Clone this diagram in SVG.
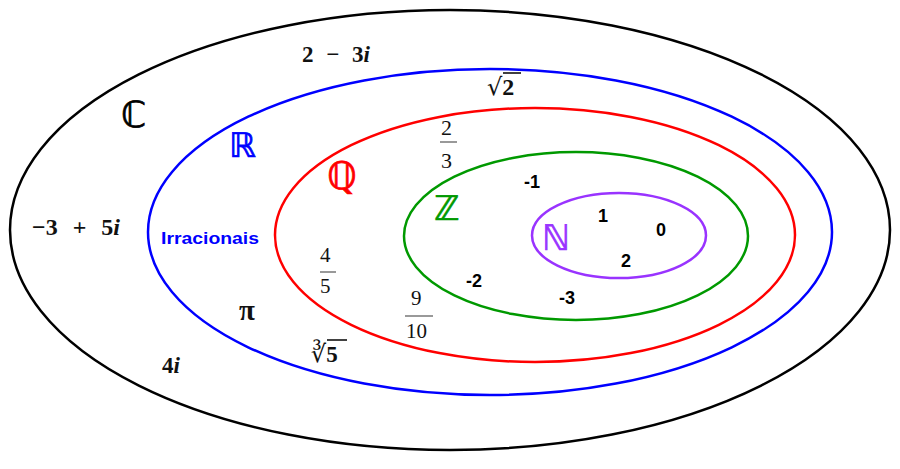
<svg xmlns="http://www.w3.org/2000/svg" width="900" height="469" viewBox="0 0 900 469">
<style>
.set{fill:none;stroke-width:2.5}
.m{font-family:"Liberation Serif","DejaVu Serif",serif;fill:#111}
.mb{font-family:"Liberation Serif","DejaVu Serif",serif;font-weight:bold;fill:#111}
.rad{font-family:"DejaVu Serif",serif}
.n{font-family:"Liberation Sans",Arial,sans-serif;font-weight:bold;font-size:18px;fill:#000}
.ds{font-family:"DejaVu Sans",sans-serif;stroke-width:0.7}
.bar{stroke:#999;stroke-width:2}
</style>
<rect width="900" height="469" fill="#fff"/>
<g id="C">
<ellipse class="set" cx="450" cy="230" rx="440" ry="220" stroke="#000"/>
<text class="ds" x="121" y="127" font-size="36" fill="#000" stroke="#000">ℂ</text>
</g>
<g id="R">
<ellipse class="set" cx="490" cy="232" rx="342" ry="163" stroke="#0000ff"/>
<text class="ds" x="229" y="157" font-size="34" fill="#0000ff" stroke="#0000ff">ℝ</text>
<text x="161" y="244" font-family="Liberation Sans,Arial,sans-serif" font-weight="bold" font-size="17" fill="#0000ff" textLength="98" lengthAdjust="spacingAndGlyphs">Irracionais</text>
</g>
<g id="Q">
<ellipse class="set" cx="535" cy="235" rx="260" ry="127" stroke="#ff0000"/>
<text class="ds" x="327" y="189" font-size="38" fill="#ff0000" stroke="#ff0000">ℚ</text>
</g>
<g id="Z">
<ellipse class="set" cx="576" cy="236" rx="172" ry="84" stroke="#009900"/>
<text class="ds" x="434" y="220" font-size="34" fill="#009900" stroke="#009900">ℤ</text>
</g>
<g id="N">
<ellipse class="set" cx="619" cy="235.5" rx="87" ry="42.5" stroke="#9933ff"/>
<text class="ds" x="542" y="250" font-size="35" fill="#9933ff" stroke="#9933ff">ℕ</text>
</g>
<g id="labels">
<text class="mb" x="302" y="62" font-size="23" word-spacing="7">2 − 3<tspan font-style="italic">i</tspan></text>
<text class="m" x="487" y="95" font-size="24"><tspan class="rad" font-size="24">√</tspan><tspan font-weight="bold">2</tspan></text>
<line x1="503" y1="73" x2="521" y2="73" stroke="#111" stroke-width="1.6"/>
<text class="m" x="441" y="135" font-size="22">2</text>
<line class="bar" x1="440" y1="142" x2="457" y2="142"/>
<text class="m" x="441" y="168" font-size="22">3</text>
<text class="n" x="524" y="188" font-size="15">-1</text>
<text class="n" x="598" y="222">1</text>
<text class="n" x="656" y="236">0</text>
<text class="n" x="621" y="267">2</text>
<text class="n" x="466" y="287">-2</text>
<text class="n" x="559" y="304">-3</text>
<text class="mb" x="32" y="235" font-size="24" word-spacing="9">−3 + 5<tspan font-style="italic">i</tspan></text>
<text class="m" x="320" y="262" font-size="21">4</text>
<line class="bar" x1="320" y1="272" x2="336" y2="272"/>
<text class="m" x="320" y="293" font-size="21">5</text>
<text class="m" x="411" y="305" font-size="21">9</text>
<line class="bar" x1="405" y1="316" x2="433" y2="316"/>
<text class="m" x="406" y="338" font-size="21">10</text>
<text class="mb" x="239" y="320" font-size="29">π</text>
<text class="m" x="311" y="362" font-size="24"><tspan class="rad">∛</tspan><tspan font-size="23" font-weight="bold">5</tspan></text>
<line x1="327" y1="340" x2="347" y2="340" stroke="#111" stroke-width="1.6"/>
<text class="mb" x="162" y="373" font-size="23">4<tspan font-style="italic">i</tspan></text>
</g>
</svg>
